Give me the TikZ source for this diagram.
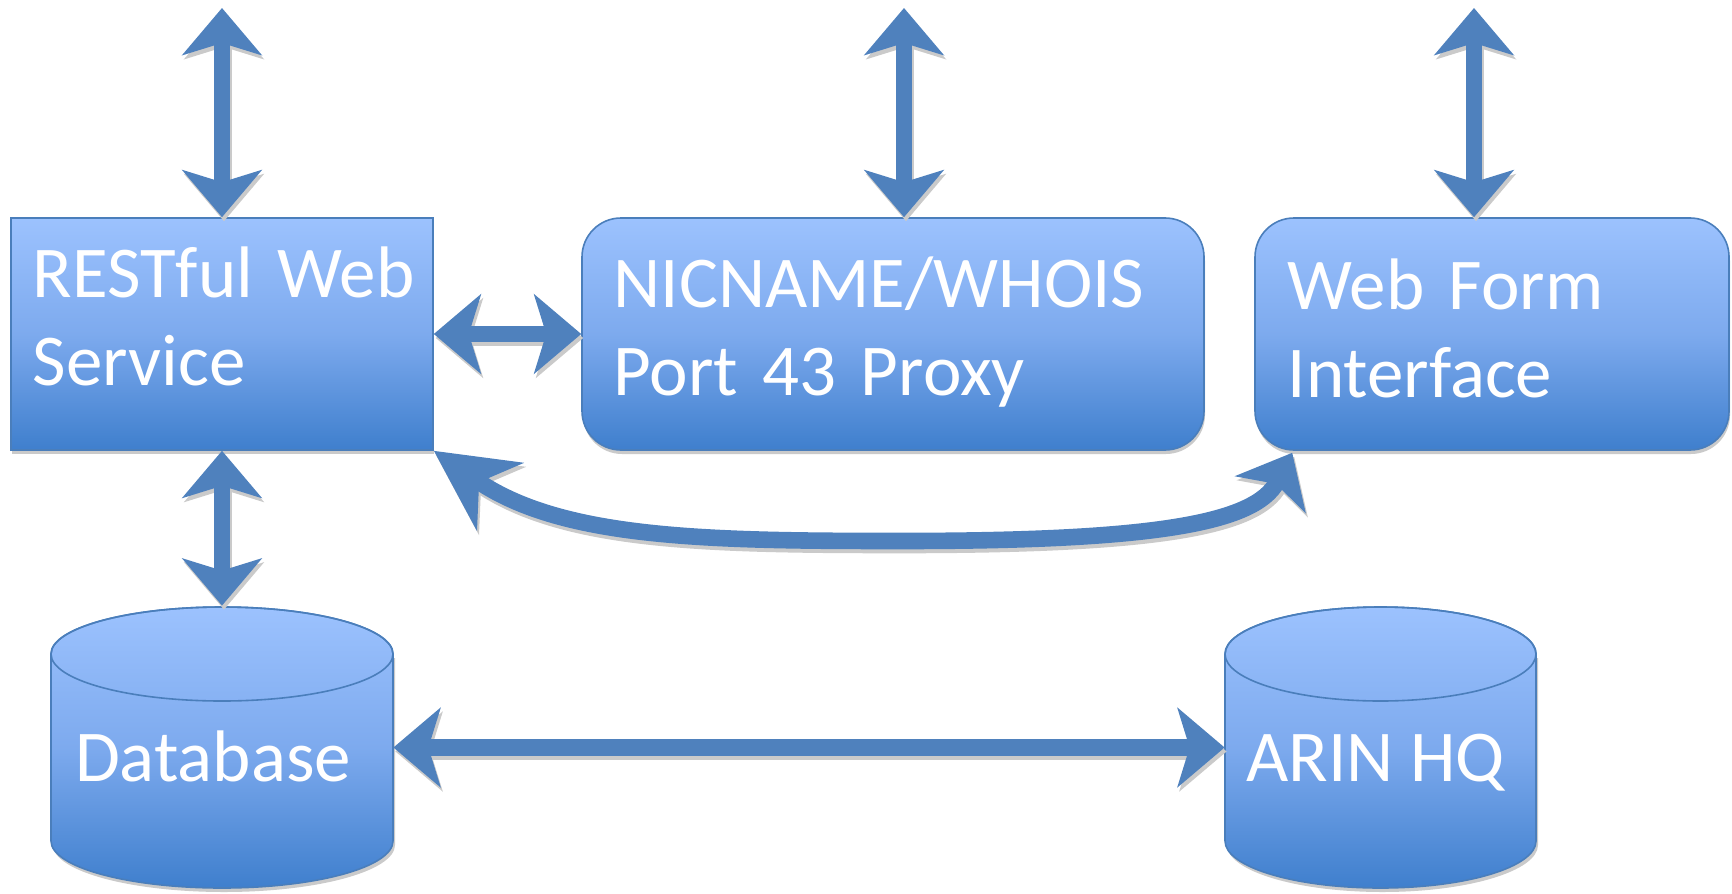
\documentclass[tikz,border=0pt]{standalone}
\usepackage{fontspec}
\setmainfont{Carlito}
\usetikzlibrary{arrows.meta, bending, shadows}

\definecolor{boxtop}{HTML}{9CC2FE}
\definecolor{boxmid}{HTML}{7DAAEE}
\definecolor{boxbot}{HTML}{3F7FCD}
\definecolor{boxline}{HTML}{4A7EBB}
\definecolor{linkblue}{HTML}{4F81BD}
\definecolor{shadowgray}{HTML}{CACACA}

\tikzset{
    panel/.style={draw=boxline, line width=0.8pt, top color=boxtop, bottom color=boxbot, middle color=boxmid,
        minimum height=116pt, inner sep=0pt,
        drop shadow={shadow xshift=0.5pt, shadow yshift=-2pt, fill=shadowgray, opacity=1}},
    roundpanel/.style={panel, rounded corners=19.5pt},
    drum/.style={minimum width=#1, minimum height=141.5pt, inner sep=0pt},
    drumbody/.style={draw=boxline, line width=0.8pt, top color=boxtop, bottom color=boxbot, middle color=boxmid},
    txt/.style={text=white, font=\fontsize{36.5pt}{44pt}\selectfont, align=left, inner sep=0pt},
    link/.style={draw=linkblue, line width=8.3pt, <->, >={Stealth[length=23.5pt, width=39.5pt, inset=6pt, quick]}},
    linkshade/.style={link, draw=shadowgray, transform canvas={shift={(1pt,-2pt)}}},
    bigtip/.tip={Stealth[length=40pt, width=40.5pt, inset=12.5pt, quick]},
    smalltip/.tip={Stealth[length=23.5pt, width=39.5pt, inset=6pt, quick]}
}

\begin{document}
\begin{tikzpicture}[x=0.5pt, y=-0.5pt]
    \useasboundingbox (0,0) rectangle (1732,893);

    % boxes
    \node[panel, minimum width=211pt] (rest) at (222,334) {};
    \node[roundpanel, minimum width=311pt] (proxy) at (893,334) {};
    \node[roundpanel, minimum width=237pt] (webform) at (1492,334) {};

    % cylinders
    \node[drum=171pt] (db) at (222,747.5) {};
    \node[drum=155.5pt] (arin) at (1380.5,747.5) {};

    \fill[shadowgray, shift={(1pt,-2pt)}] (51,654) -- (51,841) arc[start angle=180, end angle=360, x radius=85.5pt, y radius=23.5pt] -- (393,654) -- cycle;
    \path[drumbody] (51,654) -- (51,841) arc[start angle=180, end angle=360, x radius=85.5pt, y radius=23.5pt]
        -- (393,654) arc[start angle=0, end angle=180, x radius=85.5pt, y radius=23.5pt] -- cycle;
    \draw[boxline, line width=0.8pt] (222,654) ellipse [x radius=85.5pt, y radius=23.5pt];

    \fill[shadowgray, shift={(1pt,-2pt)}] (1225,654) -- (1225,841) arc[start angle=180, end angle=360, x radius=77.75pt, y radius=23.5pt] -- (1536,654) -- cycle;
    \path[drumbody] (1225,654) -- (1225,841) arc[start angle=180, end angle=360, x radius=77.75pt, y radius=23.5pt]
        -- (1536,654) arc[start angle=0, end angle=180, x radius=77.75pt, y radius=23.5pt] -- cycle;
    \draw[boxline, line width=0.8pt] (1380.5,654) ellipse [x radius=77.75pt, y radius=23.5pt];

    % labels
    \node[txt, text width=200pt, anchor=base west] (restText) at ([xshift=11pt, yshift=-40pt]rest.north west) {RESTful Web\\Service};
    \node[txt, text width=290pt, anchor=base west] (proxyText) at ([xshift=16pt, yshift=-45pt]proxy.north west) {NICNAME/WHOIS\\Port 43 Proxy};
    \node[txt, text width=220pt, anchor=base west] (webformText) at ([xshift=16.5pt, yshift=-46pt]webform.north west) {Web Form\\Interface};
    \node[txt, anchor=base] (dbText) at ([xshift=-4.5pt, yshift=-16.75pt]db.center) {Database};
    \node[txt, anchor=base] (arinText) at ([xshift=-2.5pt, yshift=-16.75pt]arin.center) {ARIN HQ};

    % free ends
    \coordinate (restTop) at (222,8);
    \coordinate (proxyTop) at (904,8);
    \coordinate (formTop) at (1474,8);
    \coordinate (proxyIn) at ([xshift=5.5pt]proxy.north);
    \coordinate (formIn) at ([xshift=-9pt]webform.north);
    \coordinate (formFoot) at ([xshift=19pt, yshift=-1pt]webform.south west);

    % shadows of the arrows
    \draw[linkshade] (restTop) -- (rest.north);
    \draw[linkshade] (proxyTop) -- (proxyIn);
    \draw[linkshade] (formTop) -- (formIn);
    \draw[linkshade] (rest.east) -- (proxy.west);
    \draw[linkshade] (rest.south) -- (db.north);
    \draw[linkshade] (db.east) -- (arin.west);
    \draw[linkshade, bigtip-smalltip] (rest.south east) .. controls (560,538) and (700,541) .. (900,541)
        .. controls (1150,541) and (1255,524) .. (formFoot);

    % arrows
    \draw[link] (restTop) -- (rest.north);
    \draw[link] (proxyTop) -- (proxyIn);
    \draw[link] (formTop) -- (formIn);
    \draw[link] (rest.east) -- (proxy.west);
    \draw[link] (rest.south) -- (db.north); % to the database
    \draw[link] (db.east) -- (arin.west);
    \draw[link, bigtip-smalltip] (rest.south east) .. controls (560,538) and (700,541) .. (900,541)
        .. controls (1150,541) and (1255,524) .. (formFoot); % web form loop
\end{tikzpicture}
\end{document}
